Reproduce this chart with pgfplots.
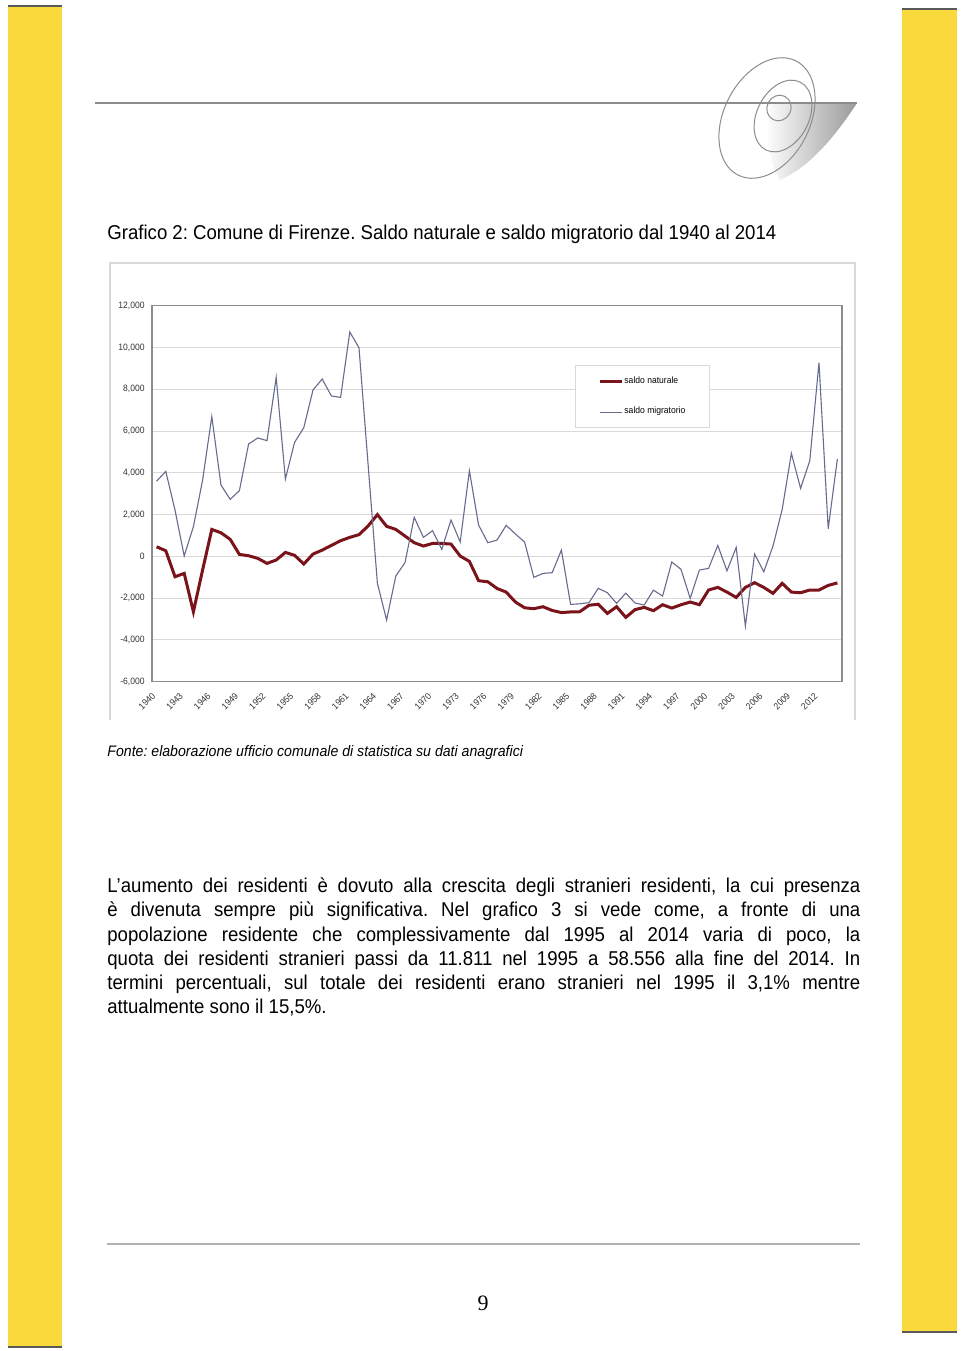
\documentclass[border=0pt]{standalone}
\usepackage{fontspec}
\setmainfont{Liberation Sans}
\newfontfamily\narrow[FakeStretch=0.93]{Liberation Sans}
\newfontfamily\serifn{Liberation Serif}
\usepackage{pgfplots}
\pgfplotsset{compat=1.18}
\definecolor{yel}{HTML}{F9D93B}
\definecolor{nat}{HTML}{7A141A}
\definecolor{mig}{HTML}{676B8E}
\frenchspacing
\begin{document}
\frenchspacing
\begin{tikzpicture}
\begin{scope}[x=0.5pt,y=-0.5pt]
\path[fill=white] (0,0) rectangle (960,1351);
% yellow side bars
\fill[yel] (8,5) rectangle (62,1347);
\draw[black!65, line width=1pt] (8,5.5) -- (62,5.5);
\draw[black!65, line width=1pt] (8,1346.5) -- (62,1346.5);
\fill[yel] (902,8) rectangle (957,1332);
\draw[black!65, line width=1pt] (902,8.5) -- (957,8.5);
\draw[black!65, line width=1pt] (902,1331.5) -- (957,1331.5);
% header line and logo
\shade[left color=white, right color=black!40] (768,103) -- (857,103) .. controls (838,132) and (812,166) .. (780,180) .. controls (770,165) and (765,135) .. (768,103) -- cycle;
\draw[black!45, line width=0.7pt] (95,103) -- (857,103);
\draw[black!45, line width=0.5pt, rotate around={-27:(767,118)}] (767,118) ellipse [x radius=21.5pt, y radius=32pt];
\draw[black!45, line width=0.5pt, rotate around={-27:(783,116)}] (783,116) ellipse [x radius=13pt, y radius=19pt];
\draw[black!45, line width=0.5pt, rotate around={-27:(779,108)}] (779,108) ellipse [x radius=6pt, y radius=6.5pt];
% title
\node[anchor=base west, inner sep=0] at (107,239) {\narrow\fontsize{10}{12}\selectfont Grafico 2: Comune di Firenze. Saldo naturale e saldo migratorio dal 1940 al 2014};
% chart outer frame
\draw[black!15, line width=0.6pt] (110,720) -- (110,263) -- (855,263) -- (855,720);
% source
\node[anchor=base west, inner sep=0] at (107,756) {\narrow\itshape\fontsize{7.6}{9}\selectfont Fonte: elaborazione ufficio comunale di statistica su dati anagrafici};
% body text
\newcommand\jl[2]{\node[anchor=base west, inner sep=0] at (107,#1) {\narrow\fontsize{10}{12}\selectfont\makebox[376.5pt][s]{#2}};}
\jl{892}{L’aumento dei residenti è dovuto alla crescita degli stranieri residenti, la cui presenza}
\jl{916}{è divenuta sempre più significativa. Nel grafico 3 si vede come, a fronte di una}
\jl{941}{popolazione residente che complessivamente dal 1995 al 2014 varia di poco, la}
\jl{965}{quota dei residenti stranieri passi da 11.811 nel 1995 a 58.556 alla fine del 2014. In}
\jl{989}{termini percentuali, sul totale dei residenti erano stranieri nel 1995 il 3,1\% mentre}
\node[anchor=base west, inner sep=0] at (107,1013) {\narrow\fontsize{10}{12}\selectfont attualmente sono il 15,5\%.};
% footer
\draw[black!30, line width=0.7pt] (107,1244) -- (860,1244);
\node[anchor=base, inner sep=0] at (483,1310) {\serifn\fontsize{11}{13}\selectfont 9};
\end{scope}
\begin{axis}[
  at={(76pt,-340.85pt)}, anchor=south west,
  scale only axis, width=345pt, height=188pt,
  xmin=1939.5, xmax=2014.5, ymin=-6000, ymax=12000,
  xtick={1940,1943,...,2012}, ytick={-6000,-4000,...,12000},
  scaled y ticks=false,
  major tick length=0pt,
  ymajorgrids, grid style={black!15, line width=0.5pt},
  axis line style={black!45, line width=0.6pt},
  /pgf/number format/assume math mode=true,
  tick label style={font=\narrow\fontsize{4.6}{5.5}\selectfont, text=black!80},
  yticklabel style={/pgf/number format/1000 sep={,}, inner sep=0pt, xshift=-3.5pt},
  xticklabel style={/pgf/number format/1000 sep={}, inner sep=0pt, anchor=east, xshift=-1.3pt, yshift=-6.3pt, rotate=45},
  legend style={at={(0.613,0.842)}, anchor=north west, draw=black!15, line width=0.5pt,
     font=\narrow\fontsize{4.6}{5.5}\selectfont, inner xsep=11.5pt, inner ysep=5pt,
     row sep=9.5pt, column sep=0pt, nodes={inner sep=0.5pt}},
  legend cell align=left,
  legend image code/.code={\draw[#1] (0pt,0pt) -- (11pt,0pt);},
]
\addplot[nat, line width=1.5pt] coordinates {
(1940,460)(1941,270)(1942,-975)(1943,-815)(1944,-2650)(1945,-650)(1946,1290)(1947,1130)(1948,815)(1949,95)
(1950,30)(1951,-95)(1952,-335)(1953,-175)(1954,190)(1955,50)(1956,-365)(1957,110)(1958,300)(1959,525)
(1960,750)(1961,910)(1962,1040)(1963,1460)(1964,2000)(1965,1440)(1966,1290)(1967,975)(1968,655)(1969,495)
(1970,620)(1971,620)(1972,590)(1973,15)(1974,-240)(1975,-1165)(1976,-1215)(1977,-1535)(1978,-1710)(1979,-2185)
(1980,-2460)(1981,-2505)(1982,-2410)(1983,-2590)(1984,-2690)(1985,-2660)(1986,-2650)(1987,-2340)(1988,-2290)(1989,-2730)
(1990,-2410)(1991,-2920)(1992,-2550)(1993,-2440)(1994,-2600)(1995,-2315)(1996,-2475)(1997,-2315)(1998,-2185)(1999,-2315)
(2000,-1610)(2001,-1485)(2002,-1710)(2003,-1965)(2004,-1485)(2005,-1260)(2006,-1485)(2007,-1770)(2008,-1290)(2009,-1710)
(2010,-1740)(2011,-1610)(2012,-1610)(2013,-1390)(2014,-1270)};
\addlegendentry{saldo naturale}
\addplot[mig, line width=0.55pt] coordinates {
(1940,3600)(1941,4070)(1942,2220)(1943,20)(1944,1420)(1945,3650)(1946,6690)(1947,3415)(1948,2730)(1949,3145)
(1950,5380)(1951,5670)(1952,5540)(1953,8570)(1954,3700)(1955,5460)(1956,6160)(1957,7965)(1958,8490)(1959,7680)
(1960,7610)(1961,10740)(1962,9990)(1963,4340)(1964,-1290)(1965,-3050)(1966,-940)(1967,-300)(1968,1870)(1969,910)
(1970,1230)(1971,335)(1972,1740)(1973,690)(1974,4100)(1975,1500)(1976,655)(1977,780)(1978,1485)(1979,1070)
(1980,690)(1981,-1005)(1982,-815)(1983,-780)(1984,300)(1985,-2300)(1986,-2270)(1987,-2215)(1988,-1530)(1989,-1740)
(1990,-2250)(1991,-1760)(1992,-2230)(1993,-2330)(1994,-1615)(1995,-1900)(1996,-270)(1997,-620)(1998,-2010)(1999,-655)
(2000,-575)(2001,525)(2002,-690)(2003,430)(2004,-3335)(2005,110)(2006,-735)(2007,495)(2008,2250)(2009,4930)
(2010,3255)(2011,4580)(2012,9275)(2013,1325)(2014,4660)};
\addlegendentry{saldo migratorio}
\end{axis}
\end{tikzpicture}
\end{document}
